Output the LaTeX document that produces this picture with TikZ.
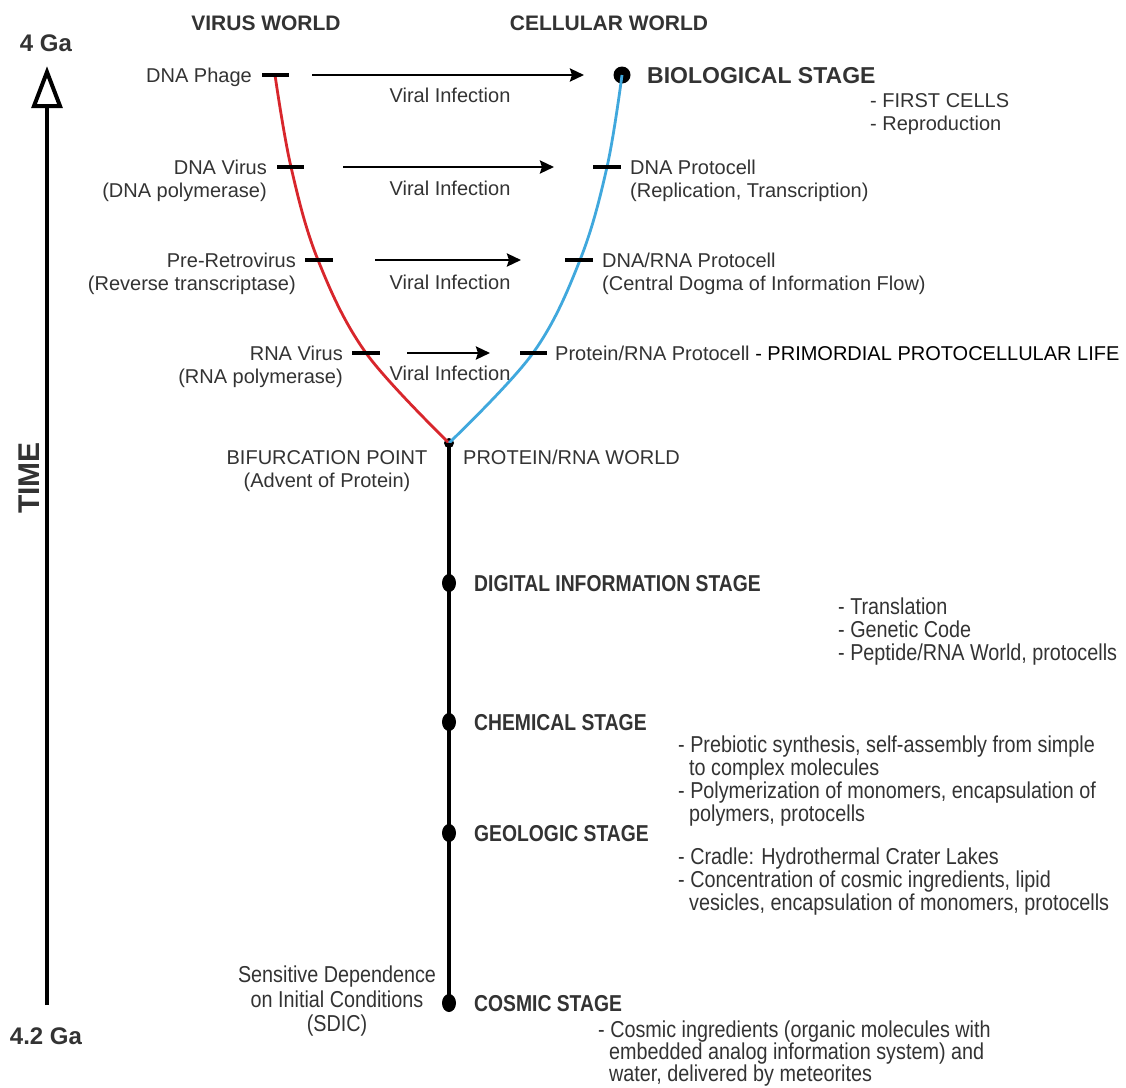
\documentclass[tikz,border=0pt]{standalone}
\usepackage{fontspec}
\setmainfont{Liberation Sans}
\newfontfamily\narrowfont[FakeStretch=0.86]{Liberation Sans}
\newfontfamily\narrowtitlefont[FakeStretch=0.84]{Liberation Sans}
\usetikzlibrary{arrows.meta,shapes.geometric}
\definecolor{txt}{HTML}{333333}
\definecolor{virusred}{HTML}{D8262C}
\definecolor{cellblue}{HTML}{40A8DD}

\begin{document}
\begin{tikzpicture}[x=1pt,y=-1pt,
  lbl/.style={font=\fontsize{20}{23}\selectfont, text=txt, inner sep=0pt},
  ttl/.style={font=\bfseries\fontsize{23}{26}\selectfont, text=txt, inner sep=0pt},
  hdr/.style={font=\bfseries\fontsize{21}{24}\selectfont, text=txt, inner sep=0pt},
  nlbl/.style={font=\narrowfont\fontsize{23}{23}\selectfont, text=txt, inner sep=0pt},
  nttl/.style={font=\narrowtitlefont\bfseries\fontsize{23}{26}\selectfont, text=txt, inner sep=0pt},
  tickmark/.style={line width=3.5pt, black},
  infect/.style={line width=2.6pt, black, -{Stealth[length=14pt,width=13pt,inset=2pt]}},
  stagedot/.style={ellipse, fill=black, minimum width=14pt, minimum height=18pt, inner sep=0pt},
  branch/.style={line width=2.8pt, smooth, tension=0.6},
]
\fill[white] (0,0) rectangle (1126,1087);
\useasboundingbox (0,0) rectangle (1126,1087);

% ---------- time axis ----------
\coordinate (tbot) at (47,1005);
\coordinate (tbase) at (47,106);
\coordinate (ttip) at (47,72);
\draw[line width=4.5pt] (tbot) -- (tbase);
\draw[line width=4pt, fill=white, line join=miter] (ttip) -- (60,106) -- (34,106) -- cycle;
\node[ttl, font=\bfseries\fontsize{24}{26}\selectfont, anchor=base] (top) at (46,51) {4 Ga};
\node[ttl, font=\bfseries\fontsize{24}{26}\selectfont, anchor=base] (bottom) at (46,1044) {4.2 Ga};
\node[ttl, font=\bfseries\fontsize{30}{32}\selectfont, rotate=90] (time) at (29,478) {TIME};

% ---------- column headers ----------
\node[hdr, anchor=base] (virusworld) at (266,30) {VIRUS WORLD};
\node[hdr, anchor=base] (cellworld) at (609,30) {CELLULAR WORLD};

% ---------- branch points ----------
\coordinate (r0) at (275,75);
\coordinate (r1) at (291,167);
\coordinate (r2) at (318,260);
\coordinate (r3) at (366,353);
\coordinate (b1) at (607,167);
\coordinate (b2) at (580,260);
\coordinate (b3) at (533,353);
\node[circle, fill=black, minimum size=17pt, inner sep=0pt] (bio) at (622,75) {};
\node[circle, fill=black, minimum size=10pt, inner sep=0pt] (bif) at (449,443) {};

\draw[virusred, branch] plot coordinates {(r0) (r1) (r2) (r3) (bif.center)};
\draw[cellblue, branch] plot coordinates {(bio.center) (b1) (b2) (b3) (bif.center)};

% ---------- ticks on the branches ----------
\draw[tickmark] (262,75) -- (289,75);
\draw[tickmark] (277,167) -- (304,167);
\draw[tickmark] (305,260) -- (333,260);
\draw[tickmark] (352,353) -- (380,353);
\draw[tickmark] (593,167) -- (621,167);
\draw[tickmark] (565,260) -- (593,260);
\draw[tickmark] (520,353) -- (547,353);

% ---------- viral infection arrows ----------
\coordinate (a1s) at (312,75);  \coordinate (a1e) at (584,75);
\coordinate (a2s) at (343,167); \coordinate (a2e) at (554,167);
\coordinate (a3s) at (375,260); \coordinate (a3e) at (521,260);
\coordinate (a4s) at (407,353); \coordinate (a4e) at (490,353);
\draw[infect] (a1s) -- (a1e);
\draw[infect] (a2s) -- (a2e);
\draw[infect] (a3s) -- (a3e);
\draw[infect] (a4s) -- (a4e);
\node[lbl, anchor=base] (vi1) at (450,102) {Viral Infection};
\node[lbl, anchor=base] (vi2) at (450,195) {Viral Infection};
\node[lbl, anchor=base] (vi3) at (450,289) {Viral Infection};
\node[lbl, anchor=base] (vi4) at (450,380) {Viral Infection};

% ---------- virus world labels ----------
\node[lbl, anchor=base east] (phage) at (252,82) {DNA Phage};
\node[lbl, anchor=base east] (dnavirus) at (267,174) {DNA Virus};
\node[lbl, anchor=base east] (dnavirusb) at (267,197) {(DNA polymerase)};
\node[lbl, anchor=base east] (retro) at (296,267) {Pre-Retrovirus};
\node[lbl, anchor=base east] (retrob) at (296,290) {(Reverse transcriptase)};
\node[lbl, anchor=base east] (rnavirus) at (343,360) {RNA Virus};
\node[lbl, anchor=base east] (rnavirusb) at (343,383) {(RNA polymerase)};

% ---------- cellular world labels ----------
\node[ttl, anchor=base west] (biostage) at (647,83) {BIOLOGICAL STAGE};
\node[lbl, anchor=base west] (bio1) at (870,107) {- FIRST CELLS};
\node[lbl, anchor=base west] (bio2) at (870,130) {- Reproduction};
\node[lbl, anchor=base west] (dnacell) at (630,174) {DNA Protocell};
\node[lbl, anchor=base west] (dnacellb) at (630,197) {(Replication, Transcription)};
\node[lbl, anchor=base west] (dnarnacell) at (602,267) {DNA/RNA Protocell};
\node[lbl, anchor=base west] (dnarnacellb) at (602,290) {(Central Dogma of Information Flow)};
\node[lbl, anchor=base west] (protcell) at (555,360) {Protein/RNA Protocell \textcolor{black}{- PRIMORDIAL PROTOCELLULAR LIFE}};

% ---------- bifurcation ----------
\node[lbl, anchor=base] (bifa) at (327,464) {BIFURCATION POINT};
\node[lbl, anchor=base] (bifb) at (327,487) {(Advent of Protein)};
\node[lbl, anchor=base west] (protworld) at (463,464) {PROTEIN/RNA WORLD};

% ---------- stages along the trunk ----------
\node[stagedot] (digital) at (449,583) {};
\node[stagedot] (chemical) at (449,722) {};
\node[stagedot] (geologic) at (449,833) {};
\node[stagedot] (cosmic) at (449,1003) {};
\draw[line width=4pt] (bif.center) -- (cosmic.center);

\node[nttl, anchor=base west] (digitalt) at (474,591) {DIGITAL INFORMATION STAGE};
\node[nlbl, anchor=base west] (dig1) at (838,614) {- Translation};
\node[nlbl, anchor=base west] (dig2) at (838,637) {- Genetic Code};
\node[nlbl, anchor=base west] (dig3) at (838,660) {- Peptide/RNA World, protocells};

\node[nttl, anchor=base west] (chemicalt) at (474,730) {CHEMICAL STAGE};
\node[nlbl, anchor=base west] (chem1) at (678,752) {- Prebiotic synthesis, self-assembly from simple};
\node[nlbl, anchor=base west] (chem2) at (689,775) {to complex molecules};
\node[nlbl, anchor=base west] (chem3) at (678,798) {- Polymerization of monomers, encapsulation of};
\node[nlbl, anchor=base west] (chem4) at (689,821) {polymers, protocells};

\node[nttl, anchor=base west] (geologict) at (474,841) {GEOLOGIC STAGE};
\node[nlbl, anchor=base west] (geo1) at (678,864) {- Cradle: Hydrothermal Crater Lakes};
\node[nlbl, anchor=base west] (geo2) at (678,887) {- Concentration of cosmic ingredients, lipid};
\node[nlbl, anchor=base west] (geo3) at (689,910) {vesicles, encapsulation of monomers, protocells};

\node[nlbl, anchor=base] (sdic1) at (337,982) {Sensitive Dependence};
\node[nlbl, anchor=base] (sdic2) at (337,1007) {on Initial Conditions};
\node[nlbl, anchor=base] (sdic3) at (337,1031) {(SDIC)};

\node[nttl, anchor=base west] (cosmict) at (474,1011) {COSMIC STAGE};
\node[nlbl, anchor=base west] (cos1) at (598,1037) {- Cosmic ingredients (organic molecules with};
\node[nlbl, anchor=base west] (cos2) at (609,1059) {embedded analog information system) and};
\node[nlbl, anchor=base west] (cos3) at (609,1081) {water, delivered by meteorites};
\end{tikzpicture}
\end{document}
